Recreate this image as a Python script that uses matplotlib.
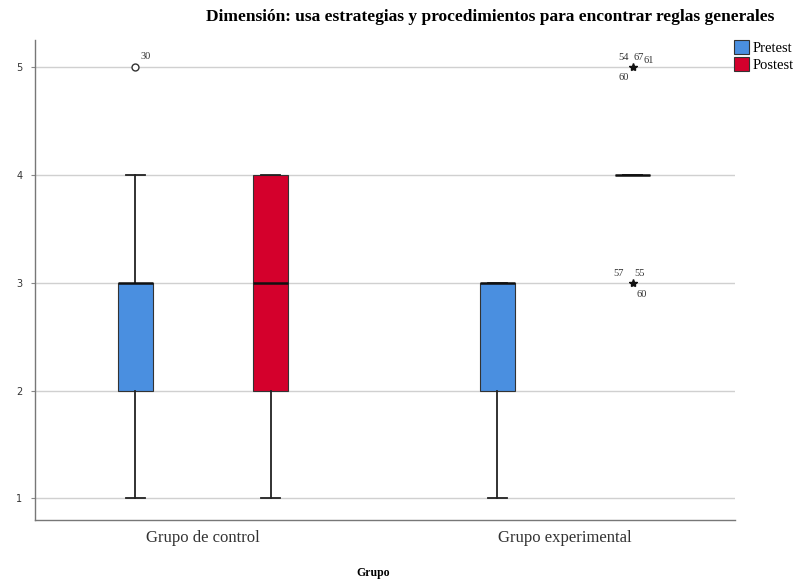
import matplotlib
matplotlib.use("Agg")
import matplotlib.pyplot as plt
from matplotlib.patches import Patch

plt.rcParams['font.family'] = ['Liberation Serif', 'DejaVu Serif']

title = "Dimensión: usa estrategias y procedimientos para encontrar reglas generales"
groups = ["Grupo de control", "Grupo experimental"]
series = ["Pretest", "Postest"]
colors = ["#4a8fe0", "#d4002c"]

# five-number summaries per group, per series: (low whisker, Q1, median, Q3, high whisker)
pretest_stats = [(1, 2, 3, 3, 4), (1, 2, 3, 3, 3)]
postest_stats = [(1, 2, 3, 4, 4), (4, 4, 4, 4, 4)]

# outlying cases: (series index, group index, value, case labels, marker)
outliers = [
    (0, 0, 5, ["30"], "o"),
    (1, 1, 5, ["54", "67", "61", "60"], "*"),
    (1, 1, 3, ["57", "55", "60"], "*"),
]

yticks = [1, 2, 3, 4, 5]

fig = plt.figure(figsize=(8.03, 5.81), dpi=100)
ax = fig.add_axes([0.0436, 0.105, 0.8717, 0.826])

group_pos = [1, 2]
offset = 0.187
box_w = 0.097
all_stats = [pretest_stats, postest_stats]

for si, stats in enumerate(all_stats):
    bxp_stats = []
    positions = []
    for gi, (lo, q1, med, q3, hi) in enumerate(stats):
        bxp_stats.append(dict(whislo=lo, q1=q1, med=med, q3=q3, whishi=hi, fliers=[]))
        positions.append(group_pos[gi] + (si - 0.5) * 2 * offset)
    ax.bxp(bxp_stats, positions=positions, widths=box_w, patch_artist=True,
           showfliers=False,
           boxprops=dict(facecolor=colors[si], edgecolor="#333333", linewidth=0.8),
           medianprops=dict(color="#111111", linewidth=1.8),
           whiskerprops=dict(color="#222222", linewidth=1.3),
           capprops=dict(color="#222222", linewidth=1.3),
           capwidths=box_w * 0.55)

lbl = dict(textcoords="offset points", fontsize=7.5, color="#333333")
for si, gi, val, labels, mk in outliers:
    x = group_pos[gi] + (si - 0.5) * 2 * offset
    if mk == "o":
        ax.plot(x, val, marker="o", markersize=5, markerfacecolor="white",
                markeredgecolor="#333333", markeredgewidth=1.0, linestyle="none", zorder=5)
        ax.annotate(labels[0], (x, val), xytext=(4, 6), **lbl)
    else:
        ax.plot(x, val, marker="*", markersize=6, color="#111111", linestyle="none", zorder=5)
        if len(labels) == 4:
            ax.annotate(labels[0], (x, val), xytext=(-10, 5), **lbl)
            ax.annotate(labels[1], (x, val), xytext=(1, 5), **lbl)
            ax.annotate(labels[2], (x, val), xytext=(8, 3), **lbl)
            ax.annotate(labels[3], (x, val), xytext=(-10, -9), **lbl)
        else:
            ax.annotate(labels[0], (x, val), xytext=(-14, 5), **lbl)
            ax.annotate(labels[1], (x, val), xytext=(1, 5), **lbl)
            ax.annotate(labels[2], (x, val), xytext=(3, -10), **lbl)

ax.set_xlim(0.536, 2.470)
ax.set_ylim(0.80, 5.25)
ax.set_yticks(yticks)
ax.set_yticklabels([str(v) for v in yticks], fontsize=7, color="#333333",
                   family=["DejaVu Sans"])
ax.set_xticks(group_pos)
ax.set_xticklabels(groups, fontsize=12, color="#333333")
ax.tick_params(axis="x", length=0, pad=7)
ax.tick_params(axis="y", length=3, color="#888888", pad=6)
ax.grid(axis="y", color="#d0d0d0", linewidth=1.0)
ax.set_axisbelow(True)
for s in ["top", "right"]:
    ax.spines[s].set_visible(False)
for s in ["left", "bottom"]:
    ax.spines[s].set_color("#777777")
    ax.spines[s].set_linewidth(1.0)

fig.text(373 / 803, 1 - 573 / 581, "Grupo", ha="center", va="center",
         fontsize=8.5, fontweight="bold")
fig.text(490 / 803, 1 - 17 / 581, title, ha="center", va="center",
         fontsize=12.5, fontweight="bold")

handles = [Patch(facecolor=c, edgecolor="#333333", linewidth=0.8) for c in colors]
fig.legend(handles, series, loc="upper left", bbox_to_anchor=(734 / 803, 1 - 40 / 581),
           frameon=False, fontsize=10.5, handlelength=1.0, handleheight=1.1,
           handletextpad=0.3, labelspacing=0.15, borderaxespad=0, borderpad=0)

fig.savefig("out.png", dpi=100)
